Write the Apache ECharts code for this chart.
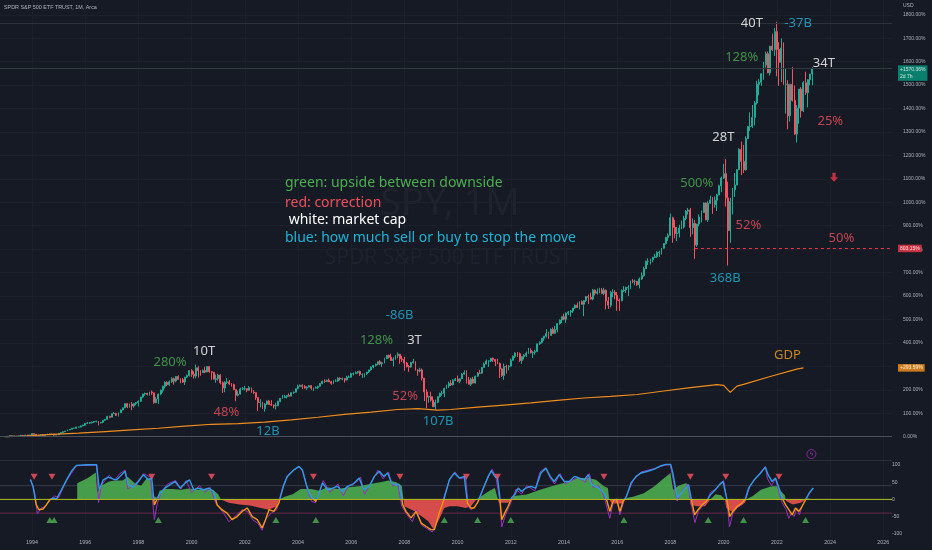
<!DOCTYPE html>
<html><head><meta charset="utf-8">
<script src="https://cdn.jsdelivr.net/npm/echarts@6/dist/echarts.min.js"></script>
<style>html,body{margin:0;padding:0;background:#161a25;}#c{width:932px;height:550px;}</style>
</head><body><div id="c"></div>
<script>
// ---------- DATA (percent change, monthly bars from Jan 1993) ----------
const startYear = 1993;
const closes = [
  0,2,4,1,3,3,3,6,5,7,6,7,
  13,10,5,6,8,5,8,12,9,11,7,8,
  14,18,21,24,29,32,36,36,41,41,46,49,
  57,58,60,62,65,66,58,61,70,74,87,83,
  98,99,91,102,114,123,141,127,139,131,141,145,
  151,169,182,185,180,191,187,145,161,182,198,215,
  232,222,234,247,238,257,245,243,233,254,261,282,
  266,259,294,281,273,282,276,299,277,275,245,247,
  263,230,208,232,234,225,222,201,177,182,203,205,
  205,198,209,190,188,167,146,147,120,139,152,137,
  135,131,132,151,164,167,171,176,173,188,190,205,
  215,219,214,208,212,218,207,207,210,215,227,237,
  235,241,234,228,237,237,250,246,248,242,254,254,
  269,269,273,278,266,266,268,276,285,297,304,309,
  320,311,315,333,347,339,325,330,346,352,332,329,
  314,299,297,316,320,284,280,285,250,191,169,171,
  156,128,147,171,185,185,206,216,228,221,240,246,
  237,247,267,273,242,224,246,229,258,272,271,295,
  310,323,323,335,329,321,312,289,261,300,298,301,
  326,343,357,354,325,342,348,356,368,358,360,363,
  396,402,420,429,440,432,458,441,457,482,498,512,
  501,527,532,536,549,561,551,576,565,581,598,595,
  587,625,612,618,626,611,625,579,561,616,616,604,
  582,580,624,626,637,638,664,663,663,648,673,687,
  717,748,748,755,765,769,786,787,804,824,850,859,
  934,893,867,869,890,895,931,962,967,892,910,818,
  907,937,956,997,925,996,1010,990,1009,1031,1070,1103,
  1122,1019,879,1003,1053,1074,1139,1226,1174,1139,1272,1323,
  1324,1362,1424,1503,1512,1548,1586,1634,1552,1666,1651,1728,
  1652,1597,1658,1503,1503,1369,1503,1435,1291,1402,1483,1390,
  1510,1468,1523,1547,1570.36
];
const highs = [
  1,3,5,4,4,4,4,6,7,8,8,8,
  14,14,11,8,9,9,9,13,13,13,12,10,
  15,19,22,25,30,33,37,38,42,43,47,51,
  58,63,63,64,67,68,66,63,71,75,88,89,
  99,105,102,103,116,125,142,142,141,148,143,148,
  155,170,183,188,187,192,197,187,170,184,201,218,
  236,236,240,254,252,258,262,249,250,255,265,282,
  288,279,308,301,284,287,299,300,302,280,276,265,
  268,266,236,237,250,242,229,226,202,196,209,212,
  217,205,216,209,198,188,168,160,149,143,154,157,
  156,137,145,153,165,178,178,177,185,189,192,205,
  222,223,224,220,214,219,218,209,215,217,229,239,
  245,243,248,238,240,245,253,253,252,249,260,261,
  273,274,278,280,282,270,270,276,286,300,306,312,
  321,327,320,337,348,350,354,339,349,360,353,345,
  341,319,306,319,332,322,288,294,291,250,202,175,
  192,172,158,172,188,196,209,222,235,241,245,250,
  261,249,271,283,283,255,252,255,260,276,285,297,
  316,329,325,336,337,329,333,317,292,312,307,305,
  333,347,360,361,359,342,352,363,379,377,365,370,
  398,407,420,429,459,448,462,466,473,485,500,512,
  525,530,536,540,549,564,572,577,581,581,600,606,
  614,630,629,632,635,634,635,628,596,621,629,625,
  617,590,629,642,640,646,666,672,670,663,679,701,
  725,751,761,760,768,780,791,794,804,826,853,867,
  952,938,925,895,904,922,942,967,976,976,931,925,
  908,948,965,999,1000,1004,1028,1022,1025,1036,1075,1110,
  1164,1185,1088,1019,1062,1125,1142,1231,1259,1245,1281,1324,
  1384,1415,1432,1518,1525,1550,1599,1643,1643,1667,1719,1744,
  1770,1683,1699,1682,1571,1521,1506,1578,1498,1415,1483,1491,
  1517,1557,1524,1547,1576
];
const lows = [
  -1,-2,0,-1,0,0,1,2,4,4,4,5,
  6,9,3,4,5,4,5,8,8,8,5,6,
  8,13,17,20,24,28,31,34,35,39,40,45,
  46,54,55,56,59,61,48,57,59,67,73,79,
  83,97,88,86,101,112,122,122,124,113,124,134,
  129,149,166,175,176,175,179,141,143,140,177,188,
  206,215,217,230,222,232,242,228,230,221,250,257,
  255,248,249,252,260,273,271,275,273,243,245,230,
  239,223,187,190,225,221,214,199,151,172,180,199,
  197,190,198,187,183,157,109,125,118,107,135,135,
  131,121,116,132,147,161,164,163,171,173,183,189,
  203,213,203,205,200,210,200,195,206,203,214,224,
  229,234,233,222,225,234,235,240,241,231,240,250,
  252,261,268,269,259,251,253,264,272,282,292,299,
  305,306,298,313,332,334,324,300,328,335,311,319,
  281,295,277,295,312,282,260,274,240,152,122,145,
  150,126,115,143,167,175,169,203,208,216,219,237,
  233,228,246,265,227,223,217,227,227,255,268,268,
  294,308,298,319,319,301,309,251,255,243,269,283,
  300,325,335,340,319,311,330,340,353,355,336,350,
  362,392,397,409,423,417,431,439,440,445,478,485,
  497,486,519,512,528,546,549,543,563,514,575,566,
  585,582,603,606,612,608,604,543,545,552,595,586,
  537,537,578,617,613,600,629,655,646,644,633,669,
  683,715,733,735,744,763,763,767,777,802,820,835,
  857,827,846,834,850,885,888,923,948,853,863,759,
  810,898,914,955,924,916,994,951,977,963,1030,1043,
  1100,982,730,827,948,1023,1072,1138,1116,1125,1135,1270,
  1305,1317,1328,1417,1456,1497,1523,1575,1551,1541,1645,1624,
  1538,1497,1513,1500,1378,1311,1344,1430,1288,1255,1335,1361,
  1385,1458,1405,1499,1499
];

// GDP (percent change), quarter-start dates
const gdpTimes  = [1993.0,1993.75,1994.75,1995.75,1996.75,1997.75,1998.75,1999.75,2000.75,2001.75,2002.75,2003.75,2004.75,2005.75,2006.75,2007.75,2008.5,2009.25,2009.75,2010.75,2011.75,2012.75,2013.75,2014.75,2015.75,2016.75,2017.75,2018.75,2019.75,2020.0,2020.25,2020.5,2020.75,2021.75,2022.75,2023.0];
const gdpValues = [0,3,10,15,22,29,36,45,53,56,62,72,83,95,105,116,120,113,116,126,135,144,155,165,172,180,195,209,222,219,189,216,223,257,288,293.59];

// tick labels
const yearTicks  = [1994,1996,1998,2000,2002,2004,2006,2008,2010,2012,2014,2016,2018,2020,2022,2024,2026];
const priceTicks = [0,100,200,300,400,500,600,700,800,900,1000,1100,1200,1300,1400,1500,1600,1700,1800];
const oscTicks   = [100,50,0,-50,-100];

// levels
const athLevel = 1765;
const cutLevel = 803.15;
const cutFrom  = 2018.92;
const barCountdown = '2d 7h';
const oscLevels = [40, 0, -40];

// annotations with anchor coordinates (year, percent) and kind
const annoTexts = ['280%','10T','48%','12B','-86B','128%','3T','52%','107B','GDP','368B','52%','500%','50%','28T','128%','40T','-37B','34T','25%'];
const annoX     = [1999.19,2000.47,2001.31,2002.87,2007.82,2006.95,2008.38,2008.03,2009.27,2022.40,2020.06,2020.93,2018.99,2024.43,2019.99,2020.68,2021.06,2022.80,2023.77,2024.01];
const annoY     = [316,363,102,24,519,410,412,174,64,346,676,903,1081,846,1276,1618,1765,1762,1595,1344];
const annoKind  = ['g','w','r','b','b','g','w','r','b','o','b','r','g','r','w','g','w','b','w','r'];
const arrowPoint = [2024.15, 1107];
const iconPoint  = [2023.3, -74];

const legendLines = [
  ['green: upside between downside','g'],
  ['red: correction','r'],
  [' white: market cap','w'],
  ['blue: how much sell or buy to stop the move','b']
];

// oscillator (lower pane)
const oscLine = [[1993.94,57],[1994.04,38],[1994.16,-16],[1994.26,-30],[1994.42,-28],[1994.54,-16],[1994.67,-1],[1994.79,4],[1994.92,1],[1995.11,28],[1995.30,57],[1995.48,82],[1995.67,99],[1996.05,101],[1996.43,101],[1996.53,28],[1996.68,57],[1996.87,65],[1997.06,59],[1997.18,57],[1997.31,67],[1997.50,82],[1997.62,43],[1997.81,36],[1998.0,52],[1998.19,72],[1998.38,57],[1998.50,62],[1998.60,-16],[1998.69,-1],[1998.82,18],[1999.0,33],[1999.19,43],[1999.38,52],[1999.57,33],[1999.76,48],[1999.92,57],[2000.08,28],[2000.26,33],[2000.45,28],[2000.64,33],[2000.83,23],[2000.96,-16],[2001.14,-30],[2001.33,-40],[2001.52,-59],[2001.71,-50],[2001.90,-35],[2002.09,-25],[2002.28,-50],[2002.47,-59],[2002.65,-83],[2002.78,-59],[2002.91,-30],[2003.09,-35],[2003.28,-11],[2003.45,38],[2003.60,67],[2003.85,86],[2004.04,96],[2004.16,86],[2004.33,38],[2004.48,9],[2004.67,-6],[2004.79,18],[2004.92,48],[2005.11,28],[2005.30,33],[2005.48,38],[2005.67,23],[2005.86,38],[2006.05,43],[2006.30,62],[2006.47,28],[2006.68,38],[2006.87,67],[2007.06,82],[2007.22,67],[2007.37,77],[2007.52,48],[2007.69,43],[2007.81,43],[2007.94,-16],[2008.06,-35],[2008.25,-54],[2008.44,-35],[2008.63,-69],[2008.82,-79],[2009.0,-88],[2009.13,-88],[2009.31,-40],[2009.50,4],[2009.69,57],[2009.88,77],[2010.06,62],[2010.25,67],[2010.37,-11],[2010.49,-25],[2010.62,-25],[2010.74,-11],[2010.87,14],[2011.0,38],[2011.15,67],[2011.27,84],[2011.40,67],[2011.50,62],[2011.57,18],[2011.66,-59],[2011.77,-40],[2011.90,-20],[2012.03,5],[2012.15,14],[2012.28,33],[2012.40,23],[2012.57,33],[2012.75,38],[2012.94,33],[2013.13,77],[2013.32,91],[2013.48,67],[2013.63,52],[2013.82,72],[2014.01,52],[2014.20,52],[2014.39,67],[2014.58,62],[2014.76,57],[2014.91,72],[2015.04,43],[2015.20,38],[2015.39,28],[2015.54,14],[2015.62,-6],[2015.72,-35],[2015.84,-6],[2015.97,1],[2016.10,-35],[2016.22,-6],[2016.35,9],[2016.52,48],[2016.71,67],[2016.90,77],[2017.15,82],[2017.40,88],[2017.65,98],[2017.84,102],[2018.01,102],[2018.09,77],[2018.26,4],[2018.41,18],[2018.56,33],[2018.68,43],[2018.78,4],[2018.91,-45],[2019.04,-30],[2019.19,-16],[2019.35,-6],[2019.51,14],[2019.69,28],[2019.85,43],[2019.98,52],[2020.10,9],[2020.23,-50],[2020.35,-35],[2020.52,-20],[2020.69,-11],[2020.82,1],[2020.94,33],[2021.15,57],[2021.36,74],[2021.57,94],[2021.67,72],[2021.82,52],[2021.95,62],[2022.08,33],[2022.20,4],[2022.33,-16],[2022.45,-30],[2022.58,-45],[2022.70,-25],[2022.83,-35],[2022.95,-20],[2023.08,-1],[2023.21,18],[2023.37,33]];
const oscFill = [[1995.70,47],[1996.10,62],[1996.40,78],[1996.45,20],[1996.6,40],[1996.9,52],[1997.1,55],[1997.4,55],[1997.6,65],[1997.9,45],[1998.1,40],[1998.3,60],[1998.45,62],[1998.55,10],[1998.7,5],[1998.8,25],[1999.0,30],[1999.3,30],[1999.6,28],[1999.9,32],[2000.2,28],[2000.5,30],[2000.8,28],[2001.0,15],[2001.1,0],[2001.4,-10],[2001.8,-15],[2002.2,-18],[2002.6,-25],[2002.9,-30],[2003.2,-20],[2003.3,0],[2003.5,8],[2003.8,15],[2004.1,30],[2004.5,30],[2004.8,25],[2005.1,35],[2005.5,30],[2005.9,35],[2006.3,38],[2006.7,45],[2007.1,50],[2007.4,55],[2007.7,50],[2007.9,40],[2008.0,-20],[2008.4,-35],[2008.9,-64],[2009.1,-88],[2009.3,-59],[2009.5,-25],[2009.7,-20],[2010.0,-20],[2010.3,-25],[2010.5,-20],[2010.7,0],[2010.9,10],[2011.2,25],[2011.4,33],[2011.5,5],[2011.55,-10],[2011.9,-10],[2012.0,0],[2012.1,10],[2012.6,14],[2013.1,28],[2013.6,40],[2014.2,52],[2014.5,62],[2014.9,62],[2015.2,57],[2015.5,38],[2015.65,33],[2015.7,0],[2015.8,-12],[2016.2,-12],[2016.35,4],[2016.6,8],[2017.0,18],[2017.4,38],[2017.7,58],[2018.0,77],[2018.1,28],[2018.3,40],[2018.6,48],[2018.7,30],[2018.75,-15],[2019.0,-20],[2019.3,-20],[2019.5,0],[2019.7,15],[2019.9,12],[2020.05,0],[2020.1,-25],[2020.3,-35],[2020.6,-20],[2020.8,-10],[2020.85,0],[2021.1,10],[2021.4,28],[2021.8,38],[2022.0,38],[2022.2,20],[2022.3,12],[2022.35,-5],[2022.6,-15],[2022.9,-10],[2023.0,-5],[2023.1,2],[2023.3,5]];
const oscFast = [[1993.94,60],[1994.1,20],[1994.2,-42],[1994.35,-25],[1994.5,-20],[1994.7,0],[1994.85,10],[1995.0,5],[1995.3,55],[1995.67,98],[1996.43,100],[1996.5,-10],[1996.6,40],[1996.9,70],[1997.1,55],[1997.3,75],[1997.5,85],[1997.6,30],[1997.8,40],[1998.0,55],[1998.2,75],[1998.45,65],[1998.6,-59],[1998.7,-15],[1998.85,20],[1999.1,45],[1999.4,55],[1999.6,30],[1999.8,55],[2000.0,20],[2000.3,40],[2000.5,20],[2000.7,35],[2000.9,-10],[2001.2,-40],[2001.4,-65],[2001.7,-45],[2001.9,-30],[2002.1,-35],[2002.3,-60],[2002.5,-70],[2002.65,-90],[2002.8,-55],[2003.0,-40],[2003.2,-30],[2003.4,30],[2003.6,70],[2003.9,90],[2004.05,95],[2004.2,80],[2004.35,30],[2004.5,-5],[2004.65,-10],[2004.8,20],[2004.95,55],[2005.2,20],[2005.5,45],[2005.7,10],[2005.9,40],[2006.2,50],[2006.35,65],[2006.5,15],[2006.8,55],[2007.0,85],[2007.2,60],[2007.4,80],[2007.55,40],[2007.75,45],[2007.9,-20],[2008.1,-45],[2008.3,-65],[2008.45,-30],[2008.65,-75],[2008.85,-85],[2009.05,-95],[2009.2,-70],[2009.35,-30],[2009.5,10],[2009.7,60],[2009.9,80],[2010.1,60],[2010.3,65],[2010.4,-20],[2010.5,-30],[2010.65,-20],[2010.8,-5],[2011.0,40],[2011.3,88],[2011.45,60],[2011.58,0],[2011.66,-80],[2011.8,-45],[2012.0,-10],[2012.2,30],[2012.4,15],[2012.6,40],[2012.9,25],[2013.1,80],[2013.3,92],[2013.5,60],[2013.65,45],[2013.85,75],[2014.05,45],[2014.3,55],[2014.5,65],[2014.8,50],[2014.95,75],[2015.1,35],[2015.3,40],[2015.5,10],[2015.72,-55],[2015.85,-10],[2016.0,0],[2016.1,-45],[2016.25,-5],[2016.4,20],[2016.6,55],[2016.9,80],[2017.4,90],[2017.8,100],[2018.0,100],[2018.1,60],[2018.25,-5],[2018.45,25],[2018.65,45],[2018.8,-20],[2018.92,-68],[2019.05,-35],[2019.2,-20],[2019.35,-10],[2019.5,20],[2019.7,30],[2019.85,45],[2020.0,55],[2020.12,0],[2020.22,-80],[2020.35,-40],[2020.5,-25],[2020.7,-15],[2020.85,5],[2021.0,40],[2021.2,60],[2021.4,80],[2021.57,96],[2021.65,60],[2021.8,40],[2021.95,60],[2022.08,20],[2022.2,-10],[2022.35,-30],[2022.45,-55],[2022.55,-40],[2022.65,-50],[2022.75,-25],[2022.85,-45],[2022.95,-20],[2023.1,0],[2023.25,20],[2023.37,33]];
const sellSignals = [1994.08,1994.75,1998.5,2000.75,2004.58,2007.83,2010.33,2011.5,2015.5,2018.75,2020.08,2022.08];
const buySignals  = [1994.67,1994.83,1998.75,2003.17,2004.67,2009.5,2010.75,2012.0,2016.25,2019.42,2020.75,2023.08];
const sellLevel = 66, buyLevel = -60;

// ---------- CHART ----------
const X_MIN = 1992.797, X_MAX = 2026.33;
const COLORS = {g:'#4caf50', r:'#f0505c', w:'#ffffff', b:'#1fb3d4', o:'#f5a020'};
const LEVEL_COLORS = ['#363a46', '#b3c21f', '#6a2a48'];
const FONT = '"Noto Sans", sans-serif';
const SMALL = '"Liberation Sans", Arial, sans-serif';

const candles = closes.map((c, i) => [startYear + i / 12, i ? closes[i - 1] : c, c, lows[i], highs[i]]);
const lastClose = closes[closes.length - 1];
const lastGdp = gdpValues[gdpValues.length - 1];

const annoData = annoTexts.map((t, i) => ({
  value: [annoX[i], annoY[i]],
  label: {formatter: t, color: COLORS[annoKind[i]]}
}));

const tagBase = {show: true, position: 'right', distance: 6, color: '#fff', fontSize: 5, fontFamily: SMALL, padding: [1.5, 2, 1, 2]};
const tagData = [
  {value: [X_MAX, lastClose], label: Object.assign({}, tagBase, {formatter: '+' + lastClose.toFixed(2) + '%\n' + barCountdown, backgroundColor: '#089981', lineHeight: 6.5, offset: [0, 4.5]})},
  {value: [X_MAX, cutLevel], label: Object.assign({}, tagBase, {formatter: cutLevel.toFixed(2) + '%', backgroundColor: '#f23645'})},
  {value: [X_MAX, lastGdp], label: Object.assign({}, tagBase, {formatter: '+' + lastGdp.toFixed(2) + '%', backgroundColor: '#f7931a'})}
];

const gridLine = {show: true, lineStyle: {color: '#1c202a', width: 1}};

const graphics = [
  {type: 'text', x: 450, y: 204, z: -1, silent: true, style: {text: 'SPY, 1M', fill: 'rgba(140,145,160,0.07)', fontSize: 38, fontFamily: FONT, align: 'center', verticalAlign: 'middle'}},
  {type: 'text', x: 448.5, y: 258, z: -1, silent: true, style: {text: 'SPDR S&P 500 ETF TRUST', fill: 'rgba(140,145,160,0.07)', fontSize: 21, fontFamily: FONT, align: 'center', verticalAlign: 'middle'}},
  {type: 'text', x: 4, y: 8, z: 100, silent: true, style: {text: 'SPDR S&P 500 ETF TRUST, 1M, Arca', fill: '#b2b5be', fontSize: 5.4, fontFamily: SMALL, align: 'left', verticalAlign: 'middle'}},
  {type: 'text', x: 903, y: 5.5, z: 100, silent: true, style: {text: 'USD', fill: '#b2b5be', fontSize: 5, fontFamily: SMALL, align: 'left', verticalAlign: 'middle'}}
];
const legendY = [183.3, 202.7, 220, 237.7];
legendLines.forEach((l, i) => graphics.push({type: 'text', x: 285, y: legendY[i], z: 100, silent: true,
  style: {text: l[0], fill: COLORS[l[1]], fontSize: 14, fontFamily: FONT, align: 'left', verticalAlign: 'middle'}}));

const levelSeries = oscLevels.map((v, i) => ({
  type: 'line', xAxisIndex: 1, yAxisIndex: 1, showSymbol: false, silent: true, z: 1 + (i === 1 ? 4 : 0),
  data: [[X_MIN, v], [X_MAX, v]],
  lineStyle: {color: LEVEL_COLORS[i], width: 1}, itemStyle: {color: LEVEL_COLORS[i]}
}));

const chart = echarts.init(document.getElementById('c'), null, {renderer: 'canvas'});
chart.setOption({
  backgroundColor: '#161a25',
  animation: false,
  textStyle: {fontFamily: FONT},
  grid: [
    {left: 0, right: 40, top: 0, height: 460},
    {left: 0, right: 40, top: 460, height: 77}
  ],
  xAxis: [
    {type: 'value', gridIndex: 0, min: X_MIN, max: X_MAX,
     axisLine: {show: true, onZero: false, lineStyle: {color: '#2a2e39'}},
     axisTick: {show: false, customValues: yearTicks}, axisLabel: {show: false}, splitLine: gridLine},
    {type: 'value', gridIndex: 1, min: X_MIN, max: X_MAX,
     axisLine: {show: false, onZero: false}, axisTick: {show: false, customValues: yearTicks},
     axisLabel: {customValues: yearTicks, formatter: v => String(Math.round(v)), fontSize: 5.3, fontFamily: SMALL, color: '#aeb1ba', margin: 3},
     splitLine: gridLine}
  ],
  yAxis: [
    {type: 'value', gridIndex: 0, position: 'right', min: -99.4, max: 1863,
     axisLine: {show: false}, axisTick: {show: false, customValues: priceTicks},
     axisLabel: {customValues: priceTicks, formatter: v => v.toFixed(2) + '%', fontSize: 5, fontFamily: SMALL, color: '#aeb1ba', margin: 11},
     splitLine: gridLine},
    {type: 'value', gridIndex: 1, position: 'right', min: -109.5, max: 114.7,
     axisLine: {show: false, onZero: false}, axisTick: {show: false, customValues: oscTicks},
     axisLabel: {customValues: oscTicks, fontSize: 5, fontFamily: SMALL, color: '#aeb1ba', margin: 0},
     splitLine: {show: false}}
  ],
  visualMap: [
    {type: 'piecewise', show: false, seriesIndex: 5, dimension: 1,
     pieces: [{gte: 0, lte: 1000, color: '#4caf50'}, {gte: -1000, lt: 0, color: '#ef5350'}]},
    {type: 'piecewise', show: false, seriesIndex: 7, dimension: 1,
     pieces: [{gte: 0, lte: 1000, color: '#2f9be6'}, {gte: -1000, lt: 0, color: '#ff9800'}]}
  ],
  graphic: graphics,
  series: [
    { // 0 candles
      type: 'candlestick', xAxisIndex: 0, yAxisIndex: 0, data: candles, barWidth: 1.4,
      itemStyle: {color: '#22ab94', color0: '#f7525f', borderColor: '#22ab94', borderColor0: '#f7525f', borderWidth: 1},
      markLine: {
        silent: true, symbol: ['none', 'none'], label: {show: false}, animation: false,
        data: [
          {yAxis: 0, lineStyle: {color: '#4a4e5a', width: 1, type: 'solid'}},
          {yAxis: athLevel, lineStyle: {color: '#2e323d', width: 1, type: 'solid'}},
          {yAxis: lastClose, lineStyle: {color: '#2e3a3c', width: 1, type: 'solid'}},
          [{coord: [cutFrom, cutLevel]}, {coord: [X_MAX, cutLevel], lineStyle: {color: '#f23645', width: 1, type: [3, 3]}}]
        ]
      }
    },
    { // 1 GDP
      type: 'line', xAxisIndex: 0, yAxisIndex: 0, showSymbol: false, z: 3,
      data: gdpTimes.map((t, i) => [t, gdpValues[i]]),
      lineStyle: {color: '#f08c1d', width: 1.2}
    },
    { // 2 annotations
      type: 'scatter', xAxisIndex: 0, yAxisIndex: 0, symbolSize: 0, z: 10, silent: true,
      label: {show: true, position: 'inside', fontSize: 13, fontFamily: FONT},
      data: annoData
    },
    { // 3 axis tags
      type: 'scatter', xAxisIndex: 0, yAxisIndex: 0, symbolSize: 0, z: 11, clip: false, silent: true,
      data: tagData
    },
    { // 4 arrow + icon
      type: 'scatter', xAxisIndex: 0, yAxisIndex: 0, z: 10, silent: true, clip: false,
      data: [
        {value: arrowPoint, symbol: 'path://M3,0 L7,0 L7,5 L10,5 L5,10 L0,5 L3,5 Z', symbolSize: [8, 9], itemStyle: {color: '#f23645'}},
        {value: iconPoint, symbol: 'circle', symbolSize: 9, itemStyle: {color: 'rgba(0,0,0,0)', borderColor: '#9c27b0', borderWidth: 1},
         label: {show: true, position: 'inside', formatter: 'ϟ', color: '#b04fd0', fontSize: 6, fontFamily: '"DejaVu Sans"'}}
      ]
    },
    { // 5 oscillator fill
      type: 'line', xAxisIndex: 1, yAxisIndex: 1, data: oscFill, showSymbol: false, z: 2,
      lineStyle: {width: 0, opacity: 0}, areaStyle: {opacity: 0.88}
    },
    { // 6 fast line
      type: 'line', xAxisIndex: 1, yAxisIndex: 1, data: oscFast, showSymbol: false, z: 3,
      lineStyle: {color: '#9b30c0', width: 1}
    },
    { // 7 main oscillator
      type: 'line', xAxisIndex: 1, yAxisIndex: 1, data: oscLine, showSymbol: false, z: 6,
      lineStyle: {width: 1.4}
    },
    { // 8 sells
      type: 'scatter', xAxisIndex: 1, yAxisIndex: 1, z: 7, silent: true,
      data: sellSignals.map(t => [t, sellLevel]), symbol: 'triangle', symbolRotate: 180, symbolSize: [7, 6],
      itemStyle: {color: '#f7525f'}
    },
    { // 9 buys
      type: 'scatter', xAxisIndex: 1, yAxisIndex: 1, z: 7, silent: true,
      data: buySignals.map(t => [t, buyLevel]), symbol: 'triangle', symbolSize: [7, 6],
      itemStyle: {color: '#4caf50'}
    }
  ].concat(levelSeries)
});
</script></body></html>
